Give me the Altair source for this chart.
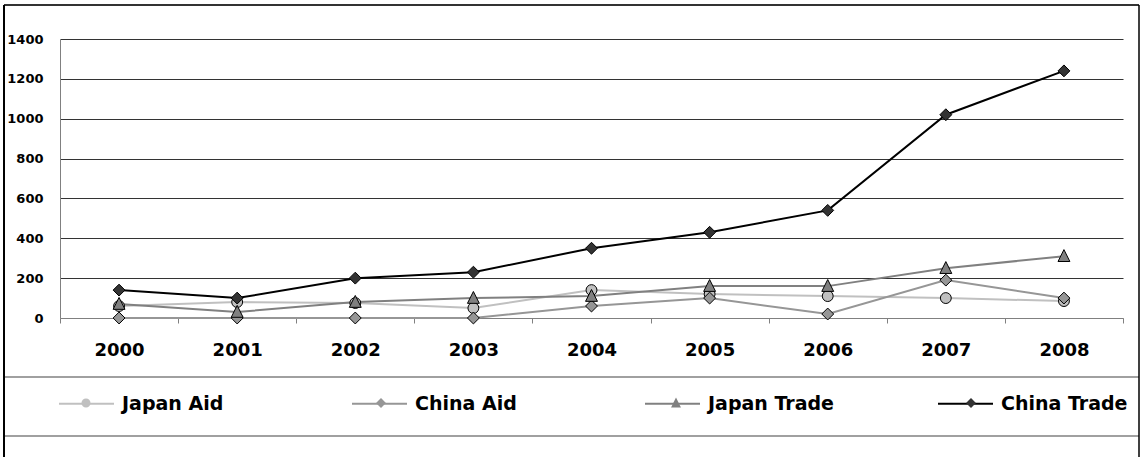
import altair as alt
import pandas as pd

# Aid and trade figures by year
years = ["2000", "2001", "2002", "2003", "2004", "2005", "2006", "2007", "2008"]
japan_aid = [60, 80, 75, 50, 140, 120, 110, 100, 85]
china_aid = [0, 0, 0, 0, 60, 100, 20, 190, 100]
japan_trade = [70, 30, 80, 100, 110, 160, 160, 250, 310]
china_trade = [140, 100, 200, 230, 350, 430, 540, 1020, 1240]

series_names = ["Japan Aid", "China Aid", "Japan Trade", "China Trade"]
line_colors = ["#c0c0c0", "#969696", "#808080", "#000000"]
marker_fills = ["#c0c0c0", "#969696", "#808080", "#333333"]

# Marker outlines in unit coordinates. The two bare move-to points give every
# marker symbol the same horizontal extent as the line swatch in the legend.
SPAN = "M-1,0M1,0"
circle_path = SPAN + "M0.165,0A0.165,0.165 0 1,1 -0.165,0A0.165,0.165 0 1,1 0.165,0Z"
diamond_path = SPAN + "M0,-0.18L0.18,0L0,0.18L-0.18,0Z"
triangle_path = SPAN + "M0,-0.2L0.18,0.16L-0.18,0.16Z"
marker_paths = [circle_path, diamond_path, triangle_path, diamond_path]

# The marker key carries a short prefix so that its legend stays separate from
# the line legend that it is laid over.
PREFIX = "m:"
marker_keys = [PREFIX + n for n in series_names]

rows = []
for name, values in zip(series_names, [japan_aid, china_aid, japan_trade, china_trade]):
    for yr, v in zip(years, values):
        rows.append({"year": yr, "value": v, "series": name, "marker": PREFIX + name})
df = pd.DataFrame(rows)

FONT = "DejaVu Sans"
LEGEND_SWATCH = 3025  # 55 px wide swatch
POINT_SIZE = 4356     # markers on the lines, a little larger than in the legend

legend_common = dict(
    title=None,
    orient="none",
    legendX=-2,
    legendY=336,
    direction="horizontal",
    columns=4,
    gridAlign="all",
    symbolSize=LEGEND_SWATCH,
    labelFont=FONT,
    labelFontSize=19,
    labelFontWeight="bold",
    labelColor="black",
    labelOffset=7,
    labelLimit=400,
    padding=0,
)

# Line swatches with the series names; columns share one width.
line_legend = alt.Legend(
    symbolType="M-1,0H1",
    symbolStrokeWidth=2,
    symbolFillColor="transparent",
    columnPadding=99,
    **legend_common,
)

# Marker overlay: no label text, column padding chosen so the markers land
# on the centres of the line swatches.
marker_legend = alt.Legend(
    symbolStrokeColor="black",
    symbolStrokeWidth=1,
    symbolOpacity=1,
    labelExpr="''",
    columnPadding=230,
    **legend_common,
)

x_enc = alt.X(
    "year:O",
    scale=alt.Scale(type="band", paddingInner=0, paddingOuter=0),
    axis=alt.Axis(
        title=None,
        labelAngle=0,
        labelFont=FONT,
        labelFontSize=18,
        labelFontWeight="bold",
        labelColor="black",
        labelPadding=18,
        tickBand="extent",
        tickSize=5,
        tickColor="#808080",
        domainColor="#808080",
        grid=False,
    ),
)
y_enc = alt.Y(
    "value:Q",
    scale=alt.Scale(domain=[0, 1400], nice=False),
    axis=alt.Axis(
        title=None,
        values=[0, 200, 400, 600, 800, 1000, 1200, 1400],
        format="d",
        labelFont=FONT,
        labelFontSize=13,
        labelFontWeight="bold",
        labelColor="black",
        labelPadding=17,
        ticks=False,
        tickSize=0,
        domainColor="#808080",
        grid=True,
        gridColor=alt.condition("datum.value === 0", alt.value("#808080"), alt.value("#333333")),
        gridWidth=1,
    ),
)

base = alt.Chart(df)

lines = base.mark_line(strokeWidth=2).encode(
    x=x_enc,
    y=y_enc,
    color=alt.Color(
        "series:N",
        scale=alt.Scale(domain=series_names, range=line_colors),
        legend=line_legend,
    ),
)

points = base.mark_point(
    filled=True, size=POINT_SIZE, stroke="black", strokeWidth=1, opacity=1
).encode(
    x=x_enc,
    y=y_enc,
    fill=alt.Fill(
        "marker:N",
        scale=alt.Scale(domain=marker_keys, range=marker_fills),
        legend=marker_legend,
    ),
    shape=alt.Shape(
        "marker:N",
        scale=alt.Scale(domain=marker_keys, range=marker_paths),
        legend=marker_legend,
    ),
)


# Frame around the chart and the legend strip
def hline(y, x1, x2, color, width):
    return alt.Chart(alt.Data(values=[{}])).mark_rule(color=color, strokeWidth=width).encode(
        x=alt.value(x1), x2=alt.value(x2), y=alt.value(y)
    )


def vline(x, y1, y2, color, width):
    return alt.Chart(alt.Data(values=[{}])).mark_rule(color=color, strokeWidth=width).encode(
        x=alt.value(x), y=alt.value(y1), y2=alt.value(y2)
    )


frame = [
    hline(-34, -56, 1079, "#333333", 2),
    hline(338, -56, 1079, "#808080", 1.5),
    hline(397, -56, 1079, "#808080", 1.5),
    vline(-56, -34, 418, "#000000", 2),
    vline(1079, -34, 418, "#000000", 1.5),
]

chart = (
    alt.layer(*frame, lines, points)
    .properties(
        width=1063,
        height=279,
        padding={"left": 3, "top": 4, "right": 0, "bottom": 0},
        background="white",
    )
    .configure_view(strokeWidth=0)
)

chart.save("out.html", embed_options={"renderer": "svg", "actions": False})
